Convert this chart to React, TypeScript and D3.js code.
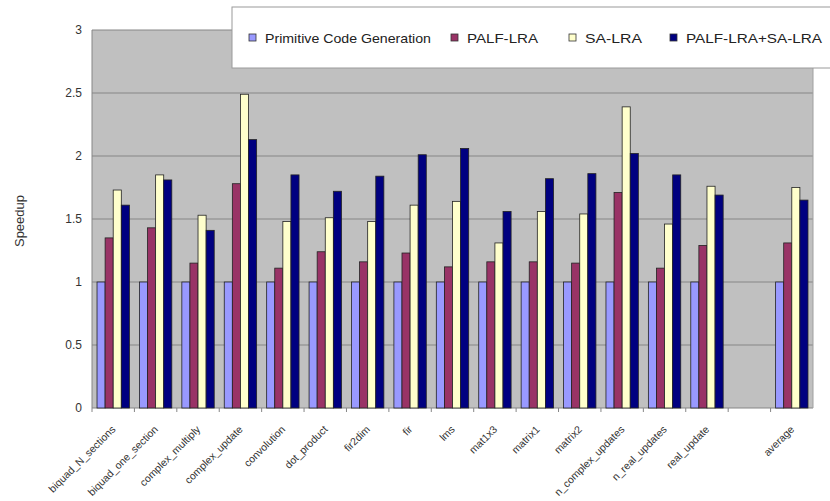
import React from "react";
import * as d3 from "d3";

const categories = [
  "biquad_N_sections", "biquad_one_section", "complex_multiply", "complex_update",
  "convolution", "dot_product", "fir2dim", "fir", "lms", "mat1x3", "matrix1", "matrix2",
  "n_complex_updates", "n_real_updates", "real_update", "", "average",
];
const seriesNames = ["Primitive Code Generation", "PALF-LRA", "SA-LRA", "PALF-LRA+SA-LRA"];
const primitive = [1, 1, 1, 1, 1, 1, 1, 1, 1, 1, 1, 1, 1, 1, 1, null, 1];
const palfLra = [1.35, 1.43, 1.15, 1.78, 1.11, 1.24, 1.16, 1.23, 1.12, 1.16, 1.16, 1.15, 1.71, 1.11, 1.29, null, 1.31];
const saLra = [1.73, 1.85, 1.53, 2.49, 1.48, 1.51, 1.48, 1.61, 1.64, 1.31, 1.56, 1.54, 2.39, 1.46, 1.76, null, 1.75];
const combined = [1.61, 1.81, 1.41, 2.13, 1.85, 1.72, 1.84, 2.01, 2.06, 1.56, 1.82, 1.86, 2.02, 1.85, 1.69, null, 1.65];
const yTicks = [0, 0.5, 1, 1.5, 2, 2.5, 3];
const colors = ["#9999ff", "#993366", "#ffffcc", "#000080"];

const W = 830, H = 501;
const plot = { left: 92, right: 813, top: 30, bottom: 408 };

// legend entry positions and label widths
const legendX = [249, 451, 569, 670];
const legendTextW = [166, 71, 57, 136];

export default function App() {
  const series = [primitive, palfLra, saLra, combined];
  const x = d3.scaleBand<string>()
    .domain(categories.map((c, i) => String(i)))
    .range([plot.left, plot.right])
    .paddingInner(0)
    .paddingOuter(0);
  const inner = d3.scaleBand<number>()
    .domain([0, 1, 2, 3])
    .range([0, x.bandwidth()])
    .paddingOuter(0.62)
    .paddingInner(0);
  const y = d3.scaleLinear().domain([0, 3]).range([plot.bottom, plot.top]);
  const font = "'Liberation Sans', Arial, sans-serif";

  return (
    <svg width={W} height={H} style={{ position: "absolute", left: 0, top: 0, background: "#fff" }}
      fontFamily={font}>
      <rect x={plot.left} y={plot.top} width={plot.right - plot.left} height={plot.bottom - plot.top} fill="#c0c0c0" />
      {yTicks.map((t) => (
        <line key={"g" + t} x1={plot.left} x2={plot.right} y1={y(t)} y2={y(t)} stroke="#868686" strokeWidth={1} />
      ))}
      <line x1={plot.left} x2={plot.left} y1={plot.top} y2={plot.bottom} stroke="#868686" />
      <line x1={plot.right} x2={plot.right} y1={plot.top} y2={plot.bottom} stroke="#a0a0a0" />
      {categories.map((c, i) => (
        <line key={"xt" + i} x1={x(String(i))!} x2={x(String(i))!} y1={plot.bottom} y2={plot.bottom + 4} stroke="#868686" />
      ))}
      {series.map((vals, s) =>
        vals.map((v, i) =>
          v == null ? null : (
            <rect key={`b${s}-${i}`}
              x={x(String(i))! + inner(s)!}
              y={y(v)}
              width={inner.bandwidth()}
              height={y(0) - y(v)}
              fill={colors[s]}
              stroke="#222"
              strokeWidth={0.8} />
          )
        )
      )}
      {yTicks.map((t) => (
        <text key={"yl" + t} x={82} y={y(t)} dy="0.35em" textAnchor="end" fontSize={12} fill="#333">{String(t)}</text>
      ))}
      <text transform={`translate(24,221) rotate(-90)`} textAnchor="middle" fontSize={13} fill="#333">Speedup</text>
      {categories.map((c, i) => c ? (
        <text key={"xl" + i}
          transform={`translate(${x(String(i))! + x.bandwidth() / 2 + 3},${plot.bottom + 22}) rotate(-45)`}
          textAnchor="end" fontSize={10.5} fill="#333">{c}</text>
      ) : null)}
      <rect x={232} y={7} width={610} height={61} fill="#fff" stroke="#9a9a9a" strokeWidth={1} />
      {seriesNames.map((n, s) => (
        <g key={"lg" + s}>
          <rect x={legendX[s]} y={34} width={7} height={7} fill={colors[s]} stroke="#333" strokeWidth={0.8} />
          <text x={legendX[s] + 16} y={38} dy="0.35em" fontSize={13} fill="#222"
            textLength={legendTextW[s]} lengthAdjust="spacingAndGlyphs">{n}</text>
        </g>
      ))}
    </svg>
  );
}
